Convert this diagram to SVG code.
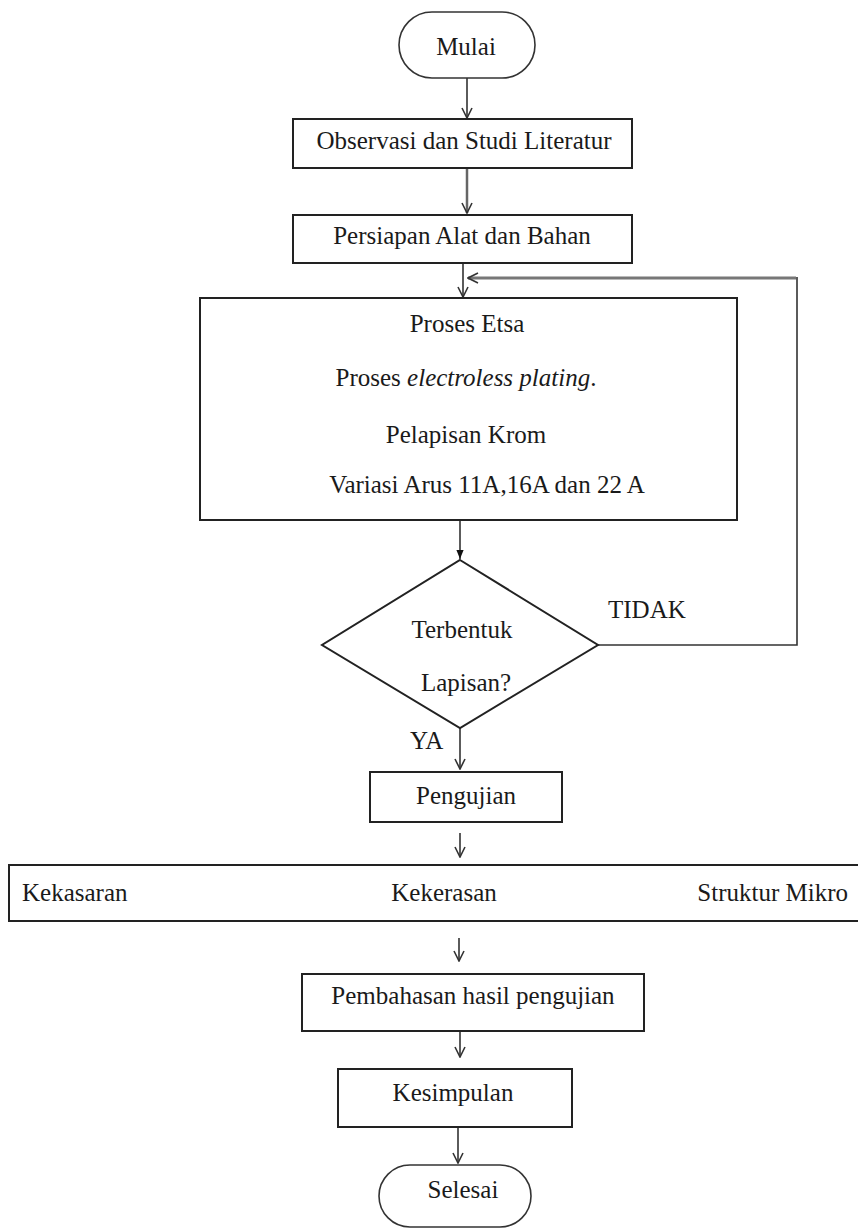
<svg xmlns="http://www.w3.org/2000/svg" width="858" height="1230" viewBox="0 0 858 1230">
<style>
  .box { fill: #fff; stroke: #222; stroke-width: 2; }
  .term { fill: #fff; stroke: #333; stroke-width: 1.6; }
  .t { font-family: "Liberation Serif", "Times New Roman", serif; font-size: 25px; fill: #1a1a1a; }
  .c { text-anchor: middle; }
  .ln { fill: none; stroke: #333; stroke-width: 1.6; }
  .gray { fill: none; stroke: #777; stroke-width: 3; }
</style>
<defs>
  <marker id="open" viewBox="0 0 12 12" refX="11" refY="6" markerWidth="12" markerHeight="12" markerUnits="userSpaceOnUse" orient="auto">
    <path d="M1,1 L11,6 L1,11" fill="none" stroke="#333" stroke-width="1.6"/>
  </marker>
  <marker id="fill" viewBox="0 0 10 10" refX="10" refY="5" markerWidth="9" markerHeight="9" markerUnits="userSpaceOnUse" orient="auto">
    <path d="M0,1 L10,5 L0,9 Z" fill="#111"/>
  </marker>
</defs>
<rect width="858" height="1230" fill="#fff"/>

<g id="connectors">
  <line class="ln" x1="467" y1="78" x2="467" y2="118" marker-end="url(#open)"/>
  <line x1="467" y1="168" x2="467" y2="213" stroke="#666" stroke-width="2.5" marker-end="url(#open)"/>
  <line class="ln" x1="463" y1="258" x2="463" y2="297" marker-end="url(#open)"/>
  <polyline class="ln" points="598,645 797,645 797,277" stroke-width="2.2"/>
  <line class="gray" x1="796" y1="278" x2="468" y2="278" marker-end="url(#open)"/>
  <line class="ln" x1="460" y1="520" x2="460" y2="559" marker-end="url(#fill)"/>
  <line class="ln" x1="460" y1="728" x2="460" y2="769" marker-end="url(#open)"/>
  <line class="ln" x1="460" y1="833" x2="460" y2="857" marker-end="url(#open)"/>
  <line class="ln" x1="459" y1="938" x2="459" y2="961" marker-end="url(#open)"/>
  <line class="ln" x1="460" y1="1031" x2="460" y2="1057" marker-end="url(#open)"/>
  <line class="ln" x1="458" y1="1121" x2="458" y2="1163" marker-end="url(#open)"/>
</g>

<g id="mulai">
  <rect class="term" x="399" y="12" width="136" height="66" rx="33" ry="33"/>
  <text class="t c" x="466" y="55">Mulai</text>
</g>
<g id="observasi">
  <rect class="box" x="293" y="119" width="339" height="49"/>
  <text class="t c" x="464" y="149">Observasi dan Studi Literatur</text>
</g>
<g id="persiapan">
  <rect class="box" x="293" y="215" width="339" height="48"/>
  <text class="t c" x="462" y="244">Persiapan Alat dan Bahan</text>
</g>
<g id="proses">
  <rect class="box" x="200" y="298" width="537" height="222"/>
  <text class="t c" x="467" y="332">Proses Etsa</text>
  <text class="t c" x="466" y="386">Proses <tspan font-style="italic">electroless plating</tspan>.</text>
  <text class="t c" x="466" y="443">Pelapisan Krom</text>
  <text class="t c" x="487" y="493">Variasi Arus 11A,16A dan 22 A</text>
</g>
<g id="keputusan">
  <polygon class="box" points="460,560 598,645 460,728 322,645"/>
  <text class="t c" x="462" y="638">Terbentuk</text>
  <text class="t c" x="466" y="691">Lapisan?</text>
</g>
<g id="label-tidak">
  <text class="t" x="608" y="618">TIDAK</text>
</g>
<g id="label-ya">
  <text class="t" x="410" y="749">YA</text>
</g>
<g id="pengujian">
  <rect class="box" x="370" y="772" width="192" height="50"/>
  <text class="t c" x="466" y="804">Pengujian</text>
</g>
<g id="pengujian-jenis">
  <rect class="box" x="9" y="865" width="870" height="56" stroke-width="2.4"/>
  <text class="t" x="22" y="901">Kekasaran</text>
  <text class="t c" x="444" y="901">Kekerasan</text>
  <text class="t" x="848" y="901" text-anchor="end">Struktur Mikro</text>
</g>
<g id="pembahasan">
  <rect class="box" x="302" y="974" width="342" height="57"/>
  <text class="t c" x="473" y="1004">Pembahasan hasil pengujian</text>
</g>
<g id="kesimpulan">
  <rect class="box" x="338" y="1069" width="234" height="58"/>
  <text class="t c" x="453" y="1101">Kesimpulan</text>
</g>
<g id="selesai">
  <rect class="term" x="379" y="1165" width="152" height="62" rx="31" ry="31"/>
  <text class="t c" x="463" y="1198">Selesai</text>
</g>
</svg>
